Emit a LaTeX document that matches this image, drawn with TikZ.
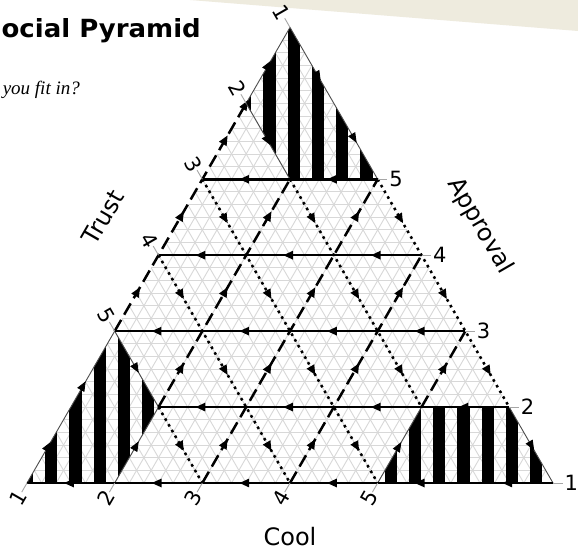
\documentclass[tikz,border=0pt]{standalone}
\usepackage{fontspec}
\setmainfont{DejaVu Sans}
\newfontfamily\subfont{Liberation Serif}
\usetikzlibrary{arrows.meta,decorations.markings}

\definecolor{paper}{RGB}{238,235,222}
\definecolor{gridgray}{RGB}{216,216,216}

\tikzset{
  gridline/.style={draw=gridgray, line width=0.9pt},
  heavy/.style={line width=2.5pt, black},
  dashline/.style={heavy, dash pattern=on 13pt off 6pt},
  dotline/.style={heavy, dash pattern=on 2.6pt off 4pt},
  edgeline/.style={line width=0.9pt, black!70},
  tickline/.style={line width=0.9pt, black!35},
  midarrows/.style={postaction={decorate,decoration={markings,
      mark=between positions {0.58/#1} and 1 step {1/#1} with {\arrow{Triangle[length=10pt,width=8pt]}}}}},
  arrowat/.style={postaction={decorate,decoration={markings,
      mark=at position #1 with {\arrow{Triangle[length=10pt,width=8pt,color=black]}}}}},
  ticklabel/.style={font=\fontsize{21}{25}\selectfont, inner sep=0pt},
  axislabel/.style={font=\fontsize{24}{29}\selectfont, inner sep=0pt}
}

\newcommand\stripefill{\foreach \m in {0,...,21}
  \fill[black] ({\m*0.2766-0.0692},-0.1) rectangle ({\m*0.2766+0.0692},6.1);}

\begin{document}
\begin{tikzpicture}[x=1pt,y=1pt]
  \useasboundingbox (0,0) rectangle (578,552);
  \clip (0,0) rectangle (578,552);
  \fill[white] (0,0) rectangle (578,552);
  \fill[paper] (190,552) -- (578,552) -- (578,521) -- cycle;

  % heading
  \node[anchor=base east, inner sep=0pt, font=\fontsize{25}{30}\selectfont\bfseries] (title) at (201,514) {\scalebox{1.04}[1]{ocial Pyramid}};
  \node[anchor=base east, inner sep=0pt, font=\subfont\itshape\fontsize{19}{22}\selectfont] (subtitle) at (80,457) {you fit in?};

  \begin{scope}[shift={(27,69)}, x={(87.67pt,0pt)}, y={(0pt,75.93pt)}]
    \coordinate (A) at (0,0);
    \coordinate (B) at (6,0);
    \coordinate (C) at (3,6);
    % corner regions
    \coordinate (T1) at (2.5,5);
    \coordinate (T2) at (3,4);
    \coordinate (T3) at (4,4);
    \coordinate (L1) at (1,2);
    \coordinate (L2) at (1.5,1);
    \coordinate (L3) at (1,0);
    \coordinate (R1) at (4,0);
    \coordinate (R2) at (4.5,1);
    \coordinate (R3) at (5.5,1);

    % fine grid
    \foreach \i in {1,...,35}{
      \pgfmathsetmacro\k{\i/6}
      \draw[gridline] ({\k/2},\k) -- ({6-\k/2},\k);
      \draw[gridline] (\k,0) -- ({(6+\k)/2},{6-\k});
      \draw[gridline] (\k,0) -- ({\k/2},\k);
    }

    % striped corners
    \begin{scope}
      \clip (T1) -- (C) -- (T3) -- (T2) -- cycle;
      \stripefill
    \end{scope}
    \begin{scope}
      \clip (A) -- (L1) -- (L2) -- (L3) -- cycle;
      \stripefill
    \end{scope}
    \begin{scope}
      \clip (R1) -- (R2) -- (R3) -- (B) -- cycle;
      \stripefill
    \end{scope}

    % thin borders
    \draw[edgeline, arrowat=0.04, arrowat=0.56] (T1) -- (C);
    \draw[edgeline, arrowat=0.35, arrowat=0.76] (C) -- (T3);
    \draw[edgeline, arrowat=0.55] (T1) -- (T2);
    \draw[edgeline, arrowat=0.27, arrowat=0.67] (A) -- (L1);
    \draw[edgeline, arrowat=0.55] (L1) -- (L2);
    \draw[edgeline, arrowat=0.55] (L3) -- (L2);
    \draw[edgeline, arrowat=0.54] (R1) -- (R2);
    \draw[edgeline, arrowat=0.57] (R3) -- (B);

    % solid lines
    \draw[heavy, midarrows=6] (B) -- (A);
    \draw[heavy, midarrows=4] (R3) -- (L2);
    \draw[heavy, midarrows=4] (5,2) -- (L1);
    \draw[heavy, midarrows=3] (4.5,3) -- (1.5,3);
    \draw[heavy, midarrows=2] (T3) -- (2,4);

    % dashed lines
    \draw[dashline, midarrows=3] (L1) -- (T1);
    \draw[dashline, midarrows=3] (L2) -- (T2);
    \draw[dashline, midarrows=4] (2,0) -- (T3);
    \draw[dashline, midarrows=3] (3,0) -- (4.5,3);
    \draw[dashline, midarrows=1] (R2) -- (5,2);

    % dotted lines
    \draw[dotline, midarrows=3] (T3) -- (R3);
    \draw[dotline, midarrows=3] (T2) -- (R2);
    \draw[dotline, midarrows=4] (2,4) -- (R1);
    \draw[dotline, midarrows=3] (1.5,3) -- (3,0);
    \draw[dotline, midarrows=1] (L2) -- (2,0);

    % ticks and numbers
    \foreach \i in {1,...,5}{
      \draw[tickline] ({\i-1},0) -- ({\i-1-0.06},-0.12);
      \node[ticklabel, rotate=60] (cool\i) at ({\i-1-0.1},-0.2) {\i};
    }
    \foreach \k in {2,...,6}{
      \pgfmathtruncatemacro\n{7-\k}
      \draw[tickline] ({\k/2},\k) -- ({\k/2-0.06},{\k+0.12});
      \node[ticklabel, rotate=-60] (trust\n) at ({\k/2-0.1},{\k+0.2}) {\n};
    }
    \foreach \k in {0,...,4}{
      \pgfmathtruncatemacro\n{\k+1}
      \draw[tickline] ({6-\k/2},\k) -- ({6-\k/2+0.11},\k);
      \node[ticklabel, anchor=west] (appr\n) at ({6-\k/2+0.13},\k) {\n};
    }
  \end{scope}

  \node[axislabel, rotate=60] (trust) at (103,335) {Trust};
  \node[axislabel, rotate=-60] (approval) at (480,326) {Approval};
  \node[axislabel] (cool) at (290,15) {Cool};
\end{tikzpicture}
\end{document}
